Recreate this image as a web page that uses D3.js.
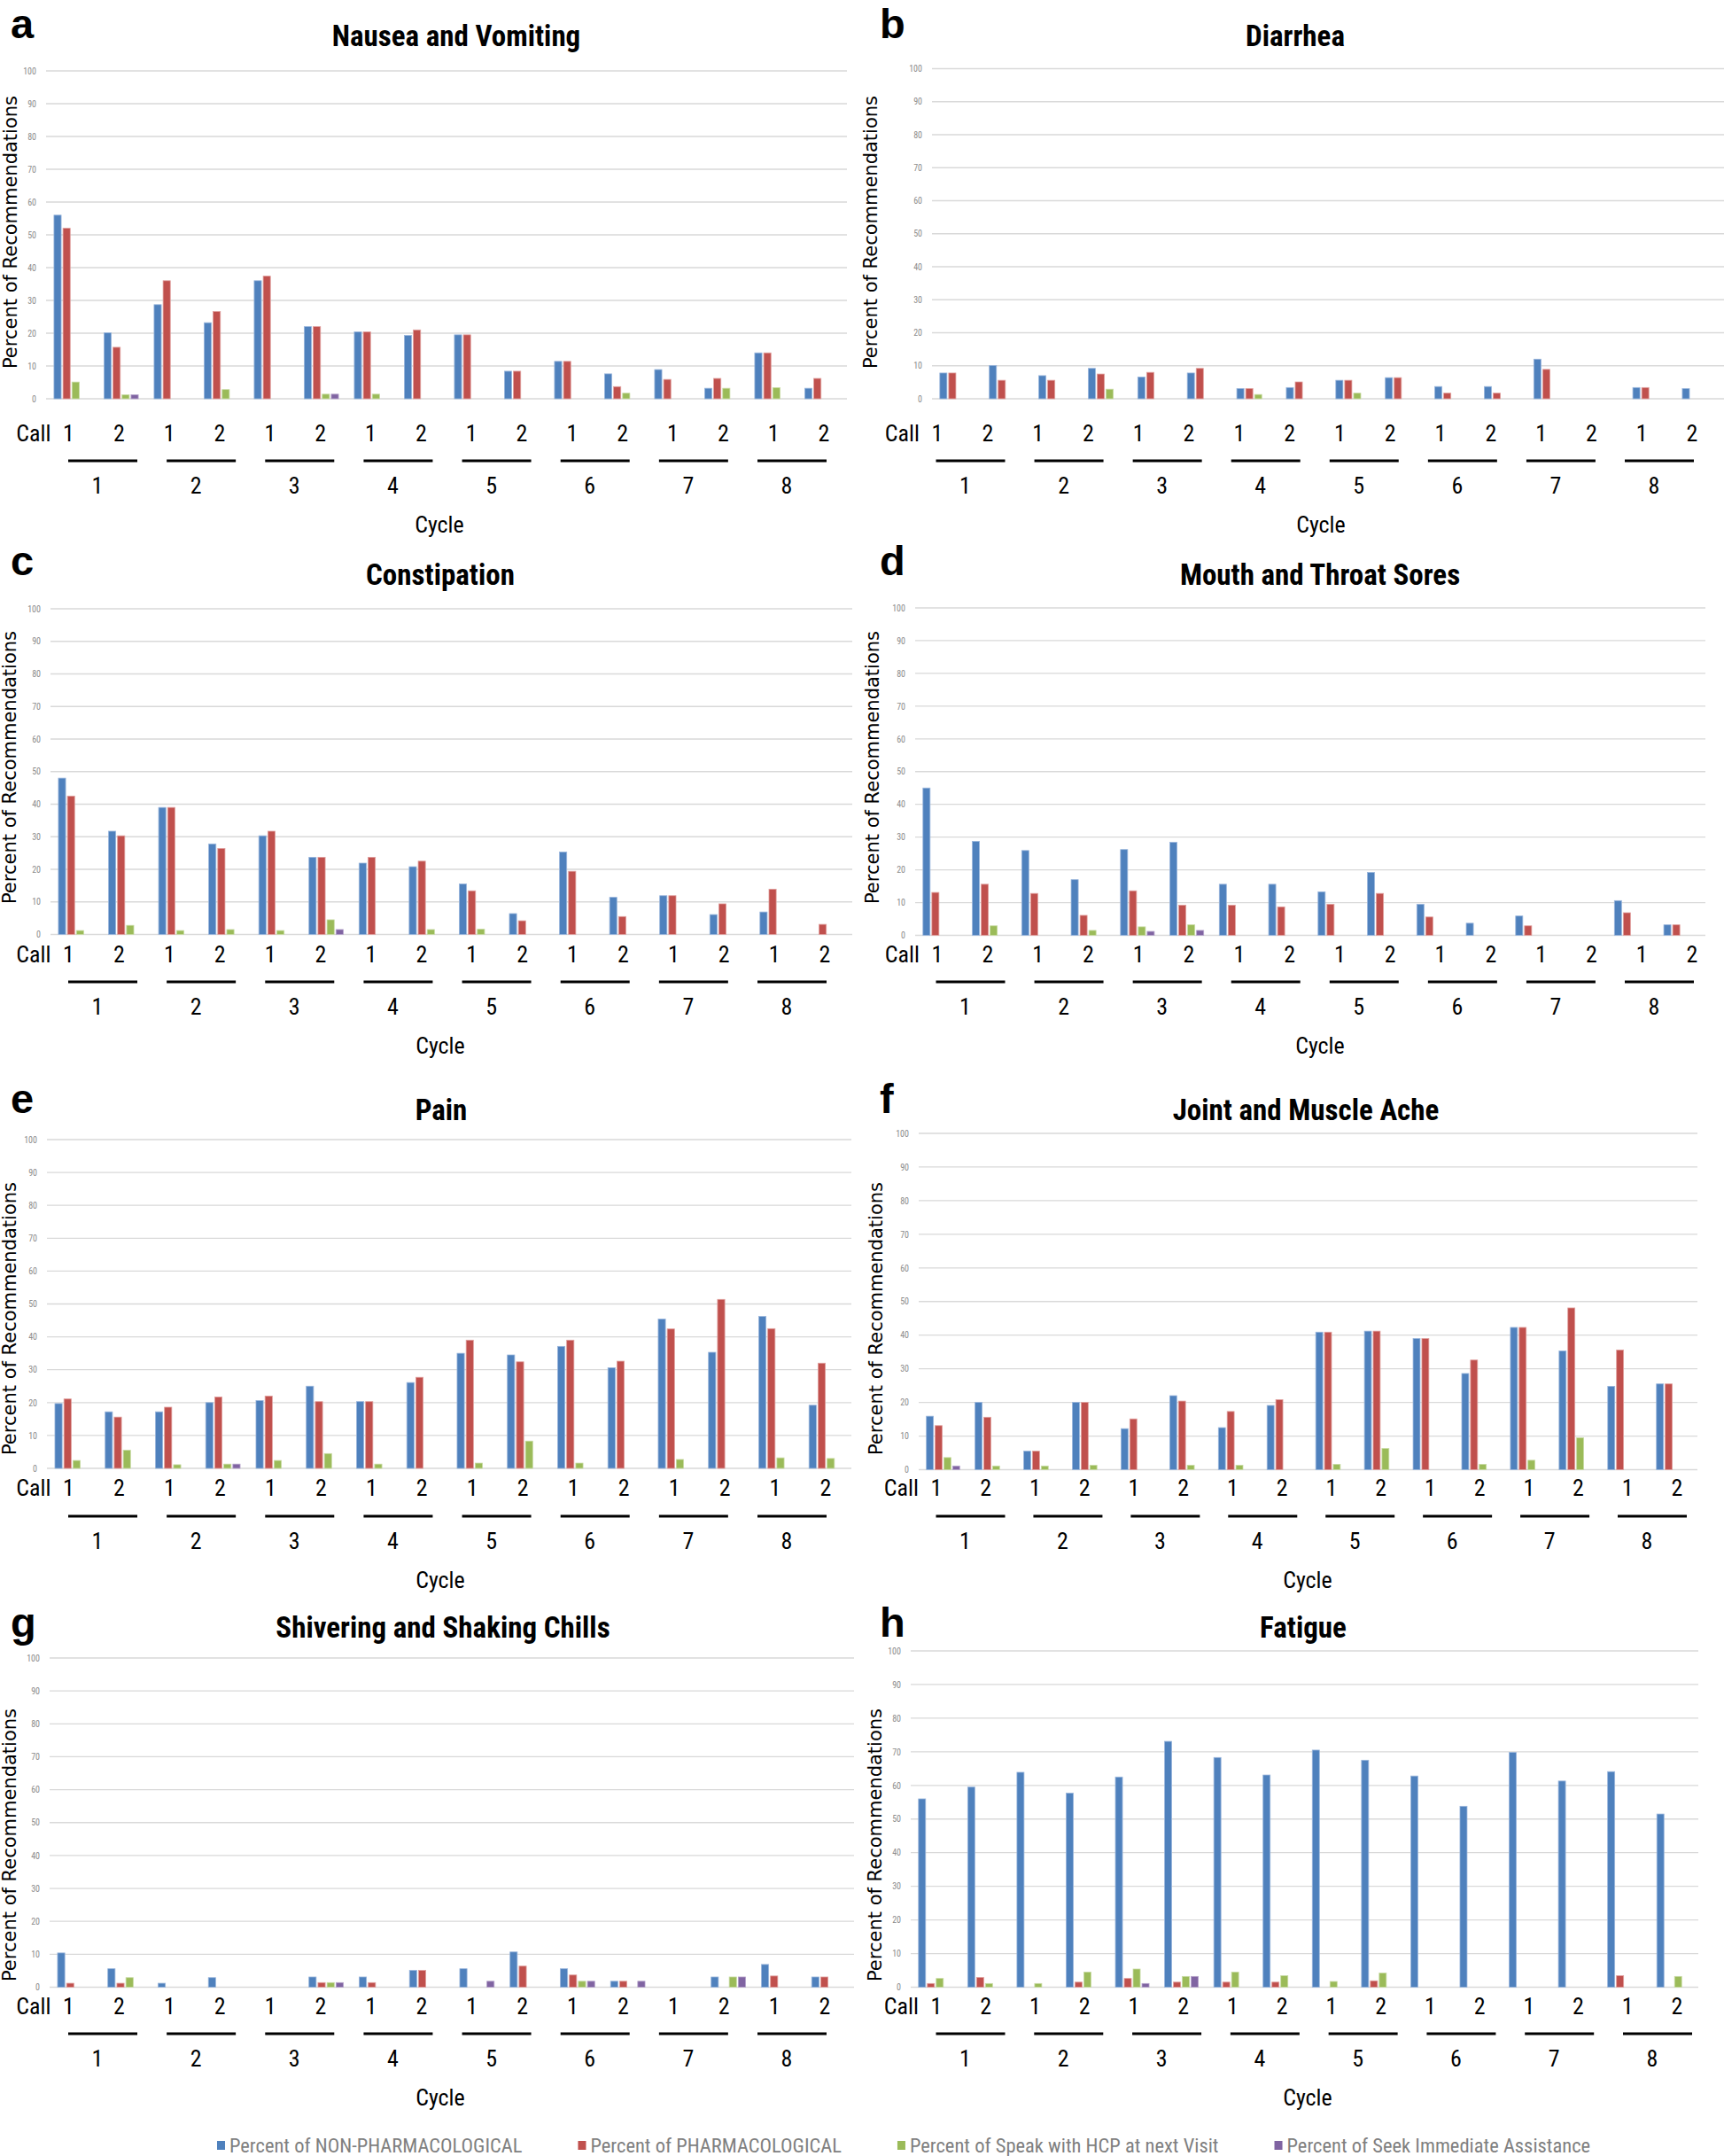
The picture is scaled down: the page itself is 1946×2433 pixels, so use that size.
<!DOCTYPE html>
<html><head><meta charset="utf-8">
<script src="https://cdn.jsdelivr.net/npm/d3@7"></script>
<style>
html,body{margin:0;padding:0;background:#fff;}
svg{display:block;}
</style></head><body>
<svg id="chart" width="1946" height="2433"></svg>
<script>
// ---------------- DATA ----------------
const cycles = ["1","2","3","4","5","6","7","8"];
const callsPerCycle = ["1","2"];
const yTicks = [0,10,20,30,40,50,60,70,80,90,100];
const seriesNames = ["Percent of NON-PHARMACOLOGICAL","Percent of PHARMACOLOGICAL","Percent of Speak with HCP at next Visit","Percent of Seek Immediate Assistance"];

// a. Nausea and Vomiting
const nauseaNonPharm = [56,20.1,28.7,23.2,36,22,20.4,19.3,19.5,8.4,11.4,7.6,8.9,3.2,14,3.2];
const nauseaPharm    = [52,15.7,36,26.6,37.4,22,20.4,21,19.5,8.4,11.4,3.7,5.9,6.2,14,6.2];
const nauseaHCP      = [5.1,1.2,0,2.8,0,1.4,1.4,0,0,0,0,1.7,0,3.2,3.4,0];
const nauseaSeek     = [0,1.2,0,0,0,1.4,0,0,0,0,0,0,0,0,0,0];
// b. Diarrhea
const diarrheaNonPharm = [7.8,10.1,7.0,9.2,6.6,7.8,3.1,3.4,5.6,6.4,3.7,3.7,12.0,0,3.4,3.1];
const diarrheaPharm    = [7.8,5.6,5.6,7.5,8.0,9.2,3.1,5.1,5.6,6.4,1.7,1.7,8.9,0,3.4,0];
const diarrheaHCP      = [0,0,0,2.9,0,0,1.3,0,1.7,0,0,0,0,0,0,0];
const diarrheaSeek     = [0,0,0,0,0,0,0,0,0,0,0,0,0,0,0,0];
// c. Constipation
const constipNonPharm = [48,31.7,39,27.8,30.3,23.7,21.9,20.8,15.5,6.4,25.3,11.4,11.9,6.1,6.9,0];
const constipPharm    = [42.5,30.3,39,26.4,31.7,23.7,23.7,22.5,13.4,4.2,19.4,5.5,11.9,9.4,13.9,3.1];
const constipHCP      = [1.2,2.8,1.2,1.5,1.2,4.5,0,1.5,1.6,0,0,0,0,0,0,0];
const constipSeek     = [0,0,0,0,0,1.5,0,0,0,0,0,0,0,0,0,0];
// d. Mouth and Throat Sores
const mouthNonPharm = [45,28.7,25.9,17,26.2,28.4,15.6,15.6,13.3,19.2,9.5,3.7,5.9,0,10.6,3.2];
const mouthPharm    = [13.1,15.6,12.8,6.1,13.6,9.2,9.2,8.7,9.5,12.8,5.6,0,2.9,0,6.9,3.2];
const mouthHCP      = [0,2.9,0,1.5,2.6,3.2,0,0,0,0,0,0,0,0,0,0];
const mouthSeek     = [0,0,0,0,1.2,1.5,0,0,0,0,0,0,0,0,0,0];
// e. Pain
const painNonPharm = [19.7,17.2,17.2,20,20.6,25,20.3,26.1,35,34.5,37.1,30.6,45.4,35.3,46.2,19.2];
const painPharm    = [21.1,15.6,18.6,21.7,22,20.3,20.3,27.7,39,32.4,39,32.6,42.4,51.4,42.5,32];
const painHCP      = [2.4,5.5,1.1,1.3,2.4,4.5,1.3,0,1.6,8.3,1.6,0,2.7,0,3.2,3.0];
const painSeek     = [0,0,0,1.3,0,0,0,0,0,0,0,0,0,0,0,0];
// f. Joint and Muscle Ache
const jointNonPharm = [15.9,20,5.5,20,12.2,22,12.5,19.1,40.9,41.2,39,28.6,42.3,35.3,24.8,25.5];
const jointPharm    = [13.1,15.6,5.5,20,15.1,20.4,17.3,20.8,40.9,41.2,39,32.6,42.3,48.1,35.6,25.5];
const jointHCP      = [3.6,1.1,1.1,1.3,0,1.3,1.3,0,1.6,6.3,0,1.6,2.8,9.5,0,0];
const jointSeek     = [1.1,0,0,0,0,0,0,0,0,0,0,0,0,0,0,0];
// g. Shivering and Shaking Chills
const chillsNonPharm = [10.4,5.6,1.2,2.9,0,3.1,3.1,5.1,5.6,10.7,5.6,1.8,0,3.1,6.9,3.1];
const chillsPharm    = [1.2,1.2,0,0,0,1.4,1.4,5.1,0,6.4,3.7,1.8,0,0,3.4,3.1];
const chillsHCP      = [0,2.9,0,0,0,1.4,0,0,0,0,1.8,0,0,3.1,0,0];
const chillsSeek     = [0,0,0,0,0,1.4,0,0,1.8,0,1.8,1.8,0,3.1,0,0];
// h. Fatigue
const fatigueNonPharm = [56,59.5,63.9,57.7,62.5,73.1,68.3,63.1,70.5,67.5,62.8,53.8,69.8,61.3,64.1,51.5];
const fatiguePharm    = [1.1,2.9,0,1.5,2.6,1.5,1.5,1.5,0,1.9,0,0,0,0,3.4,0];
const fatigueHCP      = [2.6,1.1,1.1,4.5,5.4,3.2,4.5,3.4,1.7,4.2,0,0,0,0,0,3.2];
const fatigueSeek     = [0,0,0,0,1.1,3.2,0,0,0,0,0,0,0,0,0,0];

// ---------------- STYLE / LAYOUT ----------------
const colors = ["#4f81bd","#c0504d","#9bbb59","#8064a2"];
const strokes = ["#9ab6dc","#e0a09e","#c8dba4","#b5a3cb"];
const NARROW = "'Liberation Sans Narrow','Arial Narrow','Roboto Condensed',Roboto,sans-serif";
const WIDE = "'DejaVu Sans',Verdana,sans-serif";

const rows = [
  {titleY:52,  letterY:43,   callY:498,  lineY:520,  cycNumY:557,  cycleY:601,  ylabY:262},
  {titleY:660, letterY:649,  callY:1086, lineY:1108, cycNumY:1145, cycleY:1189, ylabY:866},
  {titleY:1264,letterY:1256, callY:1688, lineY:1711, cycNumY:1748, cycleY:1792, ylabY:1488},
  {titleY:1848,letterY:1847, callY:2273, lineY:2295, cycNumY:2332, cycleY:2376, ylabY:2082}
];

const panels = [
  {letter:"a", title:"Nausea and Vomiting", series:[nauseaNonPharm,nauseaPharm,nauseaHCP,nauseaSeek], row:0,
   x0:52, x1:956, yTop:80, yZero:450, titleX:515, ylabX:19, letterX:12, labA:77.5, labB:930, cycA:110, cycB:888, cycleX:496},
  {letter:"b", title:"Diarrhea", series:[diarrheaNonPharm,diarrheaPharm,diarrheaHCP,diarrheaSeek], row:0,
   x0:1052, x1:1946, yTop:77.5, yZero:450, titleX:1462, ylabX:990, letterX:993, labA:1058, labB:1910, cycA:1089.5, cycB:1867, cycleX:1491},
  {letter:"c", title:"Constipation", series:[constipNonPharm,constipPharm,constipHCP,constipSeek], row:1,
   x0:57, x1:962, yTop:687, yZero:1054.5, titleX:497, ylabX:18, letterX:12, labA:77.5, labB:931, cycA:110, cycB:888, cycleX:497},
  {letter:"d", title:"Mouth and Throat Sores", series:[mouthNonPharm,mouthPharm,mouthHCP,mouthSeek], row:1,
   x0:1033, x1:1925, yTop:686, yZero:1055.5, titleX:1490, ylabX:992, letterX:993, labA:1058, labB:1910, cycA:1089.5, cycB:1867, cycleX:1490},
  {letter:"e", title:"Pain", series:[painNonPharm,painPharm,painHCP,painSeek], row:2,
   x0:53, x1:961, yTop:1286, yZero:1657, titleX:498, ylabX:18, letterX:12, labA:77.5, labB:932, cycA:110, cycB:888, cycleX:497},
  {letter:"f", title:"Joint and Muscle Ache", series:[jointNonPharm,jointPharm,jointHCP,jointSeek], row:2,
   x0:1037, x1:1916, yTop:1279, yZero:1658.5, titleX:1474, ylabX:996, letterX:993, labA:1057, labB:1893, cycA:1089.5, cycB:1859, cycleX:1476},
  {letter:"g", title:"Shivering and Shaking Chills", series:[chillsNonPharm,chillsPharm,chillsHCP,chillsSeek], row:3,
   x0:56, x1:964, yTop:1871, yZero:2242.5, titleX:500, ylabX:18, letterX:12, labA:77.5, labB:931, cycA:110, cycB:888, cycleX:497},
  {letter:"h", title:"Fatigue", series:[fatigueNonPharm,fatiguePharm,fatigueHCP,fatigueSeek], row:3,
   x0:1028, x1:1917, yTop:1863, yZero:2242.5, titleX:1471, ylabX:995, letterX:993, labA:1057, labB:1893, cycA:1089.5, cycB:1865, cycleX:1476}
];

const groups = cycles.flatMap(c => callsPerCycle.map(k => c + "-" + k));
const seriesIdx = d3.range(seriesNames.length);
const svg = d3.select("#chart");

function drawPanel(p){
  const r = rows[p.row];
  const g = svg.append("g");
  const x = d3.scaleBand().domain(groups).range([p.x0, p.x1]).paddingInner(0.28).paddingOuter(0.14);
  const xs = d3.scaleBand().domain(seriesIdx).range([0, x.bandwidth()]).paddingInner(0.2).paddingOuter(0.1);
  const y = d3.scaleLinear().domain([0,100]).range([p.yZero, p.yTop]);
  const xl = d3.scalePoint().domain(groups).range([p.labA, p.labB]);
  const xc = d3.scalePoint().domain(cycles).range([p.cycA, p.cycB]);

  // gridlines
  g.append("g").selectAll("line").data(yTicks).join("line")
    .attr("x1", p.x0).attr("x2", p.x1)
    .attr("y1", d => y(d)).attr("y2", d => y(d))
    .attr("stroke", "#d9d9d9").attr("stroke-width", 1.3);

  // y tick labels
  const ax = g.append("g").attr("transform", `translate(${p.x0 - 11},0)`)
    .call(d3.axisLeft(y).tickValues(yTicks).tickSize(0).tickPadding(0));
  ax.select(".domain").remove();
  ax.selectAll("text").attr("font-family", NARROW).attr("font-size", 10).attr("fill", "#8c8c8c");

  // bars
  const cells = [];
  groups.forEach((grp, i) => seriesIdx.forEach(s => {
    const v = p.series[s][i];
    if (v > 0) cells.push({grp, s, v});
  }));
  g.append("g").selectAll("rect").data(cells).join("rect")
    .attr("x", d => x(d.grp) + xs(d.s))
    .attr("width", xs.bandwidth())
    .attr("y", d => y(d.v))
    .attr("height", d => y(0) - y(d.v))
    .attr("fill", d => colors[d.s])
    .attr("stroke", d => strokes[d.s]).attr("stroke-width", 0.8);

  // panel letter
  g.append("text").attr("x", p.letterX).attr("y", r.letterY).text(p.letter)
    .attr("font-family", "'Liberation Sans',Arial,sans-serif").attr("font-weight", "bold")
    .attr("font-size", 47).attr("fill", "#000");

  // title
  g.append("text").attr("x", p.titleX).attr("y", r.titleY).text(p.title)
    .attr("text-anchor", "middle").attr("font-family", NARROW).attr("font-weight", "bold")
    .attr("font-size", 33).attr("fill", "#000");

  // y-axis label
  g.append("text").attr("transform", `translate(${p.ylabX},${r.ylabY}) rotate(-90)`)
    .attr("text-anchor", "middle").text("Percent of Recommendations")
    .attr("font-family", WIDE).attr("font-size", 21).attr("fill", "#000");

  // Call row
  g.append("text").attr("x", p.labA - 20).attr("y", r.callY).text("Call")
    .attr("text-anchor", "end").attr("font-family", NARROW).attr("font-size", 26);
  g.append("g").selectAll("text").data(groups).join("text")
    .attr("x", d => xl(d)).attr("y", r.callY).attr("text-anchor", "middle")
    .text(d => d.split("-")[1])
    .attr("font-family", NARROW).attr("font-size", 26);

  // cycle underlines & numbers
  g.append("g").selectAll("line").data(cycles).join("line")
    .attr("x1", d => xc(d) + 6 - 39).attr("x2", d => xc(d) + 6 + 39)
    .attr("y1", r.lineY).attr("y2", r.lineY)
    .attr("stroke", "#000").attr("stroke-width", 3);
  g.append("g").selectAll("text").data(cycles).join("text")
    .attr("x", d => xc(d)).attr("y", r.cycNumY).attr("text-anchor", "middle")
    .text(d => d).attr("font-family", NARROW).attr("font-size", 26);

  g.append("text").attr("x", p.cycleX).attr("y", r.cycleY).attr("text-anchor", "middle")
    .text("Cycle").attr("font-family", NARROW).attr("font-size", 26);
}

panels.forEach(drawPanel);

// legend
const leg = svg.append("g");
let lx = 245;
seriesNames.forEach((name, i) => {
  leg.append("rect").attr("x", lx).attr("y", 2416).attr("width", 9).attr("height", 10).attr("fill", colors[i]);
  const t = leg.append("text").attr("x", lx + 14).attr("y", 2429).text(name)
    .attr("font-family", NARROW).attr("font-size", 22.5).attr("fill", "#7f7f7f");
  lx = lx + 14 + t.node().getComputedTextLength() + 63;
});
</script>
</body></html>
